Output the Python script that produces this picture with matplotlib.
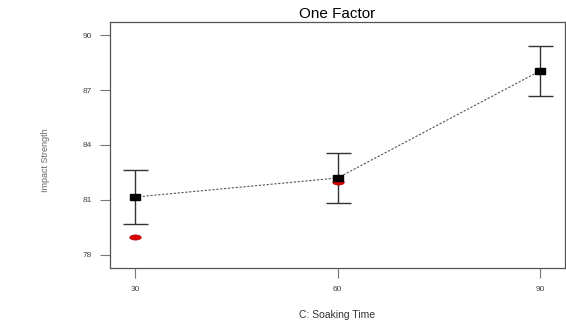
import matplotlib
matplotlib.use('Agg')
import matplotlib.pyplot as plt
import numpy as np
from matplotlib.path import Path

plt.rcParams['font.family'] = ['Liberation Sans', 'DejaVu Sans']

# data
soak_time = [30, 60, 90]
pred_mean = [81.16, 82.2, 88.04]
ci_low = [79.69, 80.84, 86.67]
ci_high = [82.64, 83.56, 89.40]
actual_x = [30, 60]
actual_y = [78.98, 82.0]

rect = Path([(-1, -0.5), (1, -0.5), (1, 0.5), (-1, 0.5), (-1, -0.5)])
ellipse_t = np.linspace(0, 2 * np.pi, 40)
ell = Path(np.column_stack([np.cos(ellipse_t), 0.45 * np.sin(ellipse_t)]))

fig = plt.figure(figsize=(5.66, 3.25), dpi=100)
ax = fig.add_axes([110 / 566, 1 - 268 / 325, 455 / 566, 246 / 325])

mean = np.array(pred_mean)
yerr = [mean - np.array(ci_low), np.array(ci_high) - mean]
ax.errorbar(soak_time, pred_mean, yerr=yerr, fmt='none', ecolor='#333333',
            elinewidth=1.0, capsize=9, capthick=1.0, zorder=2)
ax.plot(soak_time, pred_mean, linestyle=(0, (2, 1.5)), color='#555555',
        linewidth=0.8, zorder=1)
ax.scatter(actual_x, actual_y, marker=ell, s=70, color='#dd0000',
           edgecolors='#990000', linewidths=0.4, zorder=3)
ax.scatter(soak_time, pred_mean, marker=rect, s=55, color='black', zorder=4)

ax.set_xlim(26.3, 93.7)
ax.set_ylim(77.29, 90.71)
ax.set_xticks(soak_time)
ax.set_yticks([78, 81, 84, 87, 90])
ax.tick_params(axis='both', direction='out', length=7, width=0.8,
               color='#777777', labelsize=6, labelcolor='#444444', pad=6)
for s in ax.spines.values():
    s.set_color('#555555')
    s.set_linewidth(0.9)

ax.set_title('One Factor', fontsize=11, pad=3)
fig.text(45 / 566, 1 - 160 / 325, 'Impact Strength', rotation=90,
         ha='center', va='center', fontsize=6.5, color='#666666')
fig.text(337 / 566, 1 - 315 / 325, 'C: Soaking Time', ha='center',
         va='center', fontsize=7.5, color='#333333')

plt.savefig('out.png', dpi=100)
